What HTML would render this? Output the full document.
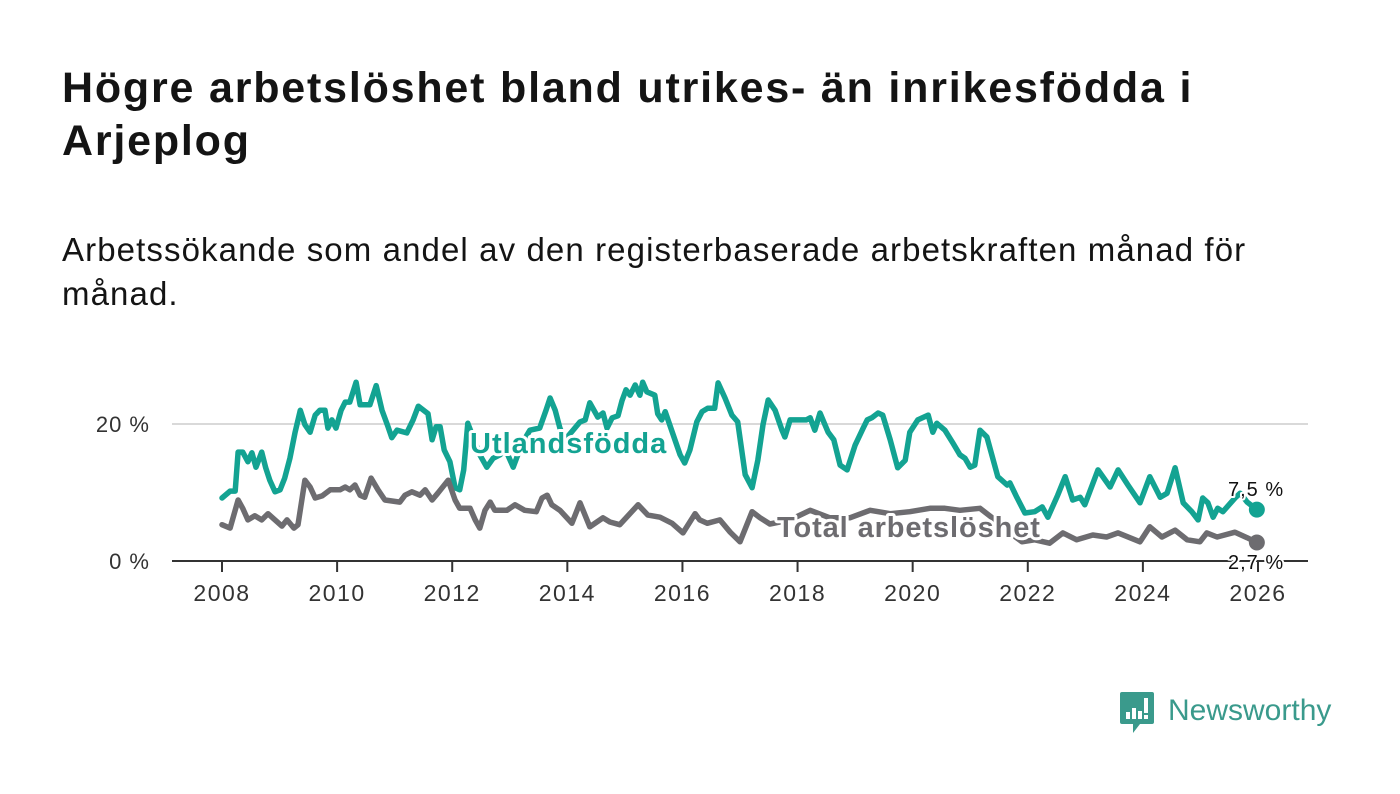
<!DOCTYPE html>
<html><head><meta charset="utf-8">
<style>
html,body{margin:0;padding:0;background:#fff;}
body{width:1400px;height:794px;position:relative;overflow:hidden;font-family:"Liberation Sans",sans-serif;color:#111;}
#title{position:absolute;left:62px;top:62px;width:1180px;font-size:43px;letter-spacing:1.8px;font-weight:bold;line-height:53px;margin:0;color:#141414;}
#subtitle{position:absolute;left:62px;top:228px;width:1200px;font-size:33px;letter-spacing:1.1px;line-height:44px;margin:0;color:#141414;}
svg{position:absolute;left:0;top:0;}
</style></head>
<body>
<h1 id="title">Högre arbetslöshet bland utrikes- än inrikesfödda i Arjeplog</h1>
<p id="subtitle">Arbetssökande som andel av den registerbaserade arbetskraften månad för månad.</p>
<svg id="chart" width="1400" height="794">
  <g id="grid"></g><g id="axes"></g><g id="lines"></g><g id="labels"></g>
  <g transform="translate(1120,692)">
    <path d="M0 2 Q0 0 2 0 L32 0 Q34 0 34 2 L34 30 Q34 32 32 32 L20 32 L13 41 L13 32 L2 32 Q0 32 0 30 Z" fill="#3a9a8c"/>
    <rect x="6" y="20" width="4" height="7" fill="#fff"/><rect x="12" y="16" width="4" height="11" fill="#fff"/><rect x="18" y="19" width="4" height="8" fill="#fff"/><rect x="24" y="6" width="4" height="15" fill="#fff"/><rect x="24" y="23" width="4" height="4" fill="#fff"/>
    <text x="48" y="28" font-size="30" fill="#3a9a8c" font-family="Liberation Sans, sans-serif">Newsworthy</text>
  </g>
</svg>
<script>
const utlDates=[2008.00,2008.14,2008.23,2008.28,2008.36,2008.45,2008.52,2008.59,2008.69,2008.76,2008.83,2008.92,2009.01,2009.09,2009.18,2009.27,2009.36,2009.44,2009.53,2009.62,2009.70,2009.79,2009.84,2009.91,2009.98,2010.07,2010.14,2010.22,2010.33,2010.40,2010.57,2010.68,2010.78,2010.88,2010.95,2011.04,2011.21,2011.32,2011.41,2011.58,2011.65,2011.72,2011.79,2011.86,2011.96,2012.05,2012.13,2012.20,2012.27,2012.38,2012.48,2012.60,2012.71,2012.83,2012.93,2013.06,2013.14,2013.25,2013.35,2013.52,2013.63,2013.70,2013.79,2013.87,2013.96,2014.13,2014.22,2014.31,2014.39,2014.53,2014.62,2014.69,2014.78,2014.88,2014.95,2015.02,2015.09,2015.18,2015.26,2015.31,2015.38,2015.52,2015.57,2015.64,2015.70,2015.96,2016.04,2016.13,2016.25,2016.34,2016.44,2016.56,2016.62,2016.74,2016.86,2016.96,2017.09,2017.21,2017.31,2017.40,2017.49,2017.61,2017.73,2017.78,2017.87,2018.04,2018.15,2018.22,2018.30,2018.39,2018.53,2018.63,2018.74,2018.86,2019.00,2019.14,2019.21,2019.29,2019.40,2019.48,2019.61,2019.74,2019.87,2019.95,2020.09,2020.27,2020.35,2020.42,2020.56,2020.70,2020.82,2020.91,2021.00,2021.08,2021.17,2021.29,2021.48,2021.64,2021.69,2021.81,2021.95,2022.12,2022.25,2022.35,2022.52,2022.65,2022.78,2022.91,2022.99,2023.22,2023.43,2023.57,2023.74,2023.95,2024.12,2024.30,2024.42,2024.56,2024.70,2024.85,2024.96,2025.04,2025.13,2025.22,2025.30,2025.39,2025.60,2025.69,2025.81,2025.98];
const utlValues=[9.2,10.2,10.2,15.9,15.9,14.5,15.8,13.7,15.9,13.6,11.8,10.1,10.4,12.1,15.0,18.8,22.0,19.9,18.8,21.3,22.0,22.0,19.4,20.6,19.4,22.0,23.2,23.2,26.1,22.8,22.8,25.6,22.0,19.7,18.0,19.1,18.7,20.6,22.6,21.5,17.7,19.6,19.6,16.2,14.5,10.7,10.4,13.3,20.1,17.7,15.5,13.7,15.0,15.5,16.2,13.7,15.5,17.7,19.1,19.4,22.0,23.8,22.0,19.4,17.7,19.4,20.3,20.6,23.1,21.0,21.6,19.4,20.9,21.2,23.4,25.0,24.2,25.7,24.2,26.1,24.7,24.2,21.5,20.6,21.8,15.5,14.3,16.2,20.3,21.8,22.3,22.3,26.0,23.8,21.3,20.3,12.6,10.7,14.7,19.9,23.5,22.0,19.1,18.1,20.6,20.6,20.6,20.9,19.1,21.6,18.8,17.7,14.0,13.3,16.9,19.4,20.6,20.9,21.6,21.3,17.7,13.6,14.7,18.8,20.6,21.3,18.8,20.1,19.1,17.2,15.5,15.0,13.7,14.0,19.1,18.1,12.3,11.1,11.4,9.3,7.0,7.2,7.9,6.4,9.6,12.3,8.9,9.3,8.2,13.3,10.8,13.3,11.1,8.5,12.3,9.3,9.9,13.6,8.5,7.2,6.0,9.2,8.5,6.4,7.7,7.2,9.2,9.9,8.6,7.5];
const totDates=[2008.00,2008.14,2008.28,2008.36,2008.45,2008.57,2008.69,2008.80,2008.92,2009.04,2009.13,2009.25,2009.32,2009.44,2009.53,2009.62,2009.74,2009.88,2010.05,2010.14,2010.22,2010.31,2010.40,2010.48,2010.59,2010.71,2010.83,2011.09,2011.18,2011.30,2011.44,2011.53,2011.65,2011.75,2011.93,2012.05,2012.13,2012.31,2012.40,2012.48,2012.57,2012.66,2012.74,2012.95,2013.09,2013.26,2013.46,2013.56,2013.65,2013.73,2013.87,2014.08,2014.22,2014.39,2014.62,2014.74,2014.91,2015.23,2015.40,2015.61,2015.82,2016.01,2016.22,2016.30,2016.43,2016.65,2016.83,2017.00,2017.21,2017.35,2017.52,2017.87,2018.22,2018.56,2018.91,2019.26,2019.61,2019.95,2020.30,2020.56,2020.82,2021.17,2021.43,2021.69,2021.90,2022.12,2022.38,2022.61,2022.85,2023.13,2023.37,2023.57,2023.95,2024.12,2024.33,2024.56,2024.77,2024.99,2025.11,2025.29,2025.60,2025.81,2025.98];
const totValues=[5.3,4.8,8.9,7.7,6.0,6.6,6.0,6.9,6.0,5.1,6.0,4.8,5.3,11.8,10.8,9.2,9.5,10.4,10.4,10.8,10.4,11.1,9.6,9.3,12.1,10.4,8.9,8.6,9.6,10.1,9.6,10.4,8.9,9.9,11.8,8.9,7.7,7.7,6.0,4.8,7.4,8.6,7.4,7.4,8.2,7.4,7.2,9.2,9.6,8.2,7.4,5.5,8.5,5.0,6.3,5.7,5.3,8.2,6.7,6.4,5.5,4.1,6.9,6.0,5.5,6.0,4.2,2.8,7.2,6.3,5.4,6.0,7.4,6.3,6.3,7.4,6.9,7.2,7.7,7.7,7.4,7.7,6.0,4.1,2.8,3.1,2.6,4.1,3.1,3.8,3.5,4.1,2.8,5.0,3.5,4.5,3.1,2.8,4.1,3.5,4.2,3.4,2.7];
const xTicks=[2008,2010,2012,2014,2016,2018,2020,2022,2024,2026];
const yTicks=[0,20];
const yTickLabels=["0 %","20 %"];

const NS="http://www.w3.org/2000/svg";
const xScale=d=>222+(d-2008)*(1258-222)/18;
const yScale=v=>561-v*(561-424)/20;
function mk(tag,attrs,parent){const e=document.createElementNS(NS,tag);for(const k in attrs)e.setAttribute(k,attrs[k]);parent.appendChild(e);return e;}
const grid=document.getElementById('grid'),axes=document.getElementById('axes'),lines=document.getElementById('lines'),labels=document.getElementById('labels');
yTicks.forEach((t,i)=>{
  if(t!==0){const g=mk('line',{x1:172,x2:1308,y1:yScale(t),y2:yScale(t),stroke:'#d9d9d9','stroke-width':2},grid);
  
  }
  const tx=mk('text',{x:150,y:yScale(t)+8,'text-anchor':'end','font-size':22,'letter-spacing':1,fill:'#333'},axes);
  tx.textContent=yTickLabels[i];
  
  
});
const base=mk('line',{x1:172,x2:1308,y1:561,y2:561,stroke:'#333','stroke-width':2},axes);


xTicks.forEach(t=>{
  const l=mk('line',{x1:xScale(t),x2:xScale(t),y1:561,y2:572,stroke:'#333','stroke-width':2},axes);
  
  
  const tx=mk('text',{x:xScale(t),y:601,'text-anchor':'middle','font-size':23,'letter-spacing':1.5,fill:'#333'},axes);
  tx.textContent=t;
  
  
});
function path(ds,vs){return ds.map((d,i)=>(i?'L':'M')+xScale(d).toFixed(1)+' '+yScale(vs[i]).toFixed(1)).join(' ');}
const pu=mk('path',{d:path(utlDates,utlValues),fill:'none',stroke:'#13a392','stroke-width':5.5,'stroke-linejoin':'round','stroke-linecap':'round'},lines);


const pt=mk('path',{d:path(totDates,totValues),fill:'none',stroke:'#6d6c70','stroke-width':5.5,'stroke-linejoin':'round','stroke-linecap':'round'},lines);


const lu=utlValues.length-1,lt=totValues.length-1;
const cu=mk('circle',{cx:xScale(utlDates[lu]),cy:yScale(utlValues[lu]),r:8,fill:'#13a392'},lines);


const ct=mk('circle',{cx:xScale(totDates[lt]),cy:yScale(totValues[lt]),r:8,fill:'#6d6c70'},lines);


function lbl(x,y,txt,fill,size,weight,name,halo,ls){
  const t=mk('text',{x:x,y:y,'font-size':size,'font-weight':weight,'letter-spacing':ls,fill:fill,stroke:'#fff','stroke-width':halo,'paint-order':'stroke','stroke-linejoin':'round'},labels);
  t.textContent=txt;
  
  
}
lbl(470,453,'Utlandsfödda','#13a392',29,'bold','utlandsfodda-label',6,1);
lbl(777,537,'Total arbetslöshet','#6d6c70',29,'bold','total-label',6,0.9);
lbl(1228,496,'7,5 %','#111',20,'normal','utlandsfodda-end-value',4,1);
lbl(1228,569,'2,7 %','#111',20,'normal','total-end-value',4,1);
</script>
</body></html>
